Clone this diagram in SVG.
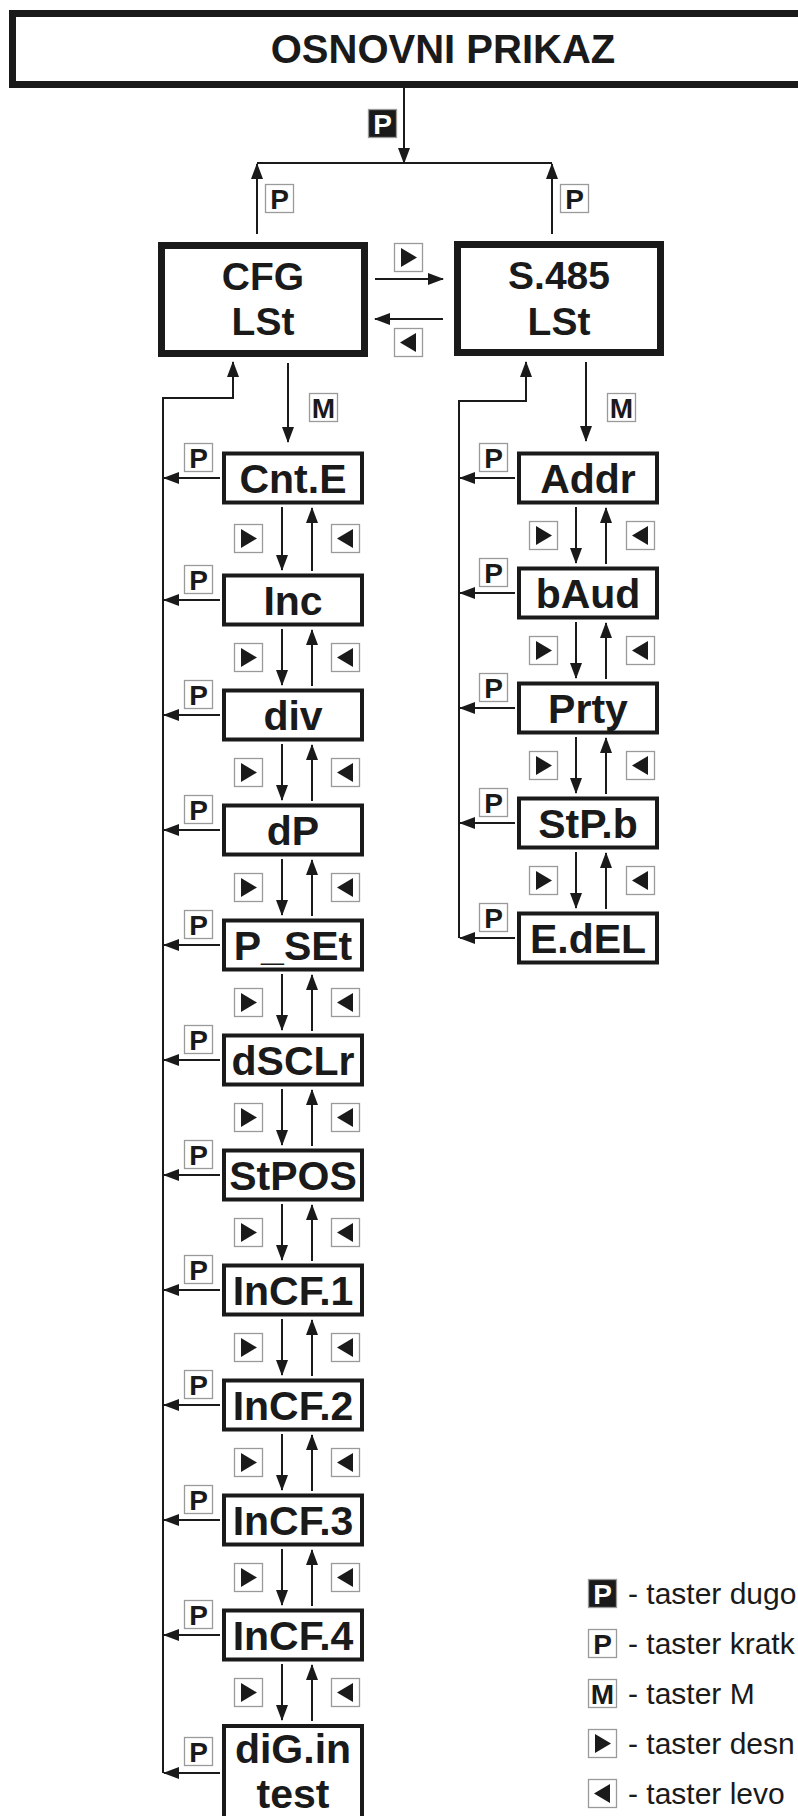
<svg xmlns="http://www.w3.org/2000/svg" xmlns:xlink="http://www.w3.org/1999/xlink" width="798" height="1816" viewBox="0 0 798 1816">
<style>
.bg{fill:#ffffff}
.big{fill:#ffffff;stroke:#1a1a1a;stroke-width:7}
.node{fill:#ffffff;stroke:#1a1a1a;stroke-width:4}
.t{font-family:"Liberation Sans",Arial,Helvetica,sans-serif;font-weight:bold;fill:#1a1a1a;text-anchor:middle}
.tn{font-size:41px}
.tb{font-size:39px}
.ln{fill:none;stroke:#1a1a1a;stroke-width:2}
.ar{fill:none;stroke:#1a1a1a;stroke-width:2;marker-end:url(#ah)}
.kb{fill:#ffffff;stroke:#9a9a9a;stroke-width:1.3}
.kbf{fill:#1a1a1a;stroke:#9a9a9a;stroke-width:1.3}
.kt{font-family:"Liberation Sans",Arial,Helvetica,sans-serif;font-weight:bold;font-size:28px;fill:#1a1a1a;text-anchor:middle}
.ktw{font-family:"Liberation Sans",Arial,Helvetica,sans-serif;font-weight:bold;font-size:28px;fill:#ffffff;text-anchor:middle}
.lg{font-family:"Liberation Sans",Arial,Helvetica,sans-serif;font-size:30px;fill:#1a1a1a}
</style>
<defs>
<marker id="ah" markerUnits="userSpaceOnUse" markerWidth="16" markerHeight="12" refX="15" refY="6" orient="auto">
<path d="M0,0 L16,6 L0,12 Z" fill="#1a1a1a"/>
</marker>
<g id="kP"><rect class="kb" x="0.5" y="0.5" width="28" height="28"/><text class="kt" x="14.5" y="24.5">P</text></g>
<g id="kPf"><rect class="kbf" x="0.5" y="0.5" width="28" height="28"/><text class="ktw" x="14.5" y="24.5">P</text></g>
<g id="kM"><rect class="kb" x="0.5" y="0.5" width="28" height="28"/><text class="kt" x="14.5" y="24.5">M</text></g>
<g id="kR"><rect class="kb" x="0.5" y="0.5" width="28" height="28"/><path d="M7,5 L23,14.5 L7,24 Z" fill="#1a1a1a"/></g>
<g id="kL"><rect class="kb" x="0.5" y="0.5" width="28" height="28"/><path d="M22,5 L6,14.5 L22,24 Z" fill="#1a1a1a"/></g>
</defs>
<rect class="bg" x="0" y="0" width="798" height="1816"/>

<g id="connectors">
<path class="ar" d="M404,88 V163"/>
<path class="ln" d="M257,163 H552"/>
<path class="ar" d="M257,234 V164"/>
<path class="ar" d="M552,234 V164"/>
<path class="ar" d="M375,279 H443"/>
<path class="ar" d="M443,319 H375"/>
<path class="ar" d="M288,363 V442"/>
<path class="ar" d="M586,362 V441"/>
<path class="ar" d="M163,1773 V398 H233 V362"/>
<path class="ar" d="M459,938 V401 H526 V362"/>
<path class="ar" d="M220,478 H164"/>
<path class="ar" d="M220,600 H164"/>
<path class="ar" d="M220,715 H164"/>
<path class="ar" d="M220,830 H164"/>
<path class="ar" d="M220,945 H164"/>
<path class="ar" d="M220,1060 H164"/>
<path class="ar" d="M220,1175 H164"/>
<path class="ar" d="M220,1290 H164"/>
<path class="ar" d="M220,1405 H164"/>
<path class="ar" d="M220,1520 H164"/>
<path class="ar" d="M220,1635 H164"/>
<path class="ar" d="M220,1773 H164"/>
<path class="ar" d="M515,478 H460"/>
<path class="ar" d="M515,593 H460"/>
<path class="ar" d="M515,708 H460"/>
<path class="ar" d="M515,823 H460"/>
<path class="ar" d="M515,938 H460"/>
<path class="ar" d="M282,507 V570"/><path class="ar" d="M312,571 V508"/>
<path class="ar" d="M282,629 V685"/><path class="ar" d="M312,686 V630"/>
<path class="ar" d="M282,744 V800"/><path class="ar" d="M312,801 V745"/>
<path class="ar" d="M282,859 V915"/><path class="ar" d="M312,916 V860"/>
<path class="ar" d="M282,974 V1030"/><path class="ar" d="M312,1031 V975"/>
<path class="ar" d="M282,1089 V1145"/><path class="ar" d="M312,1146 V1090"/>
<path class="ar" d="M282,1204 V1260"/><path class="ar" d="M312,1261 V1205"/>
<path class="ar" d="M282,1319 V1375"/><path class="ar" d="M312,1376 V1320"/>
<path class="ar" d="M282,1434 V1490"/><path class="ar" d="M312,1491 V1435"/>
<path class="ar" d="M282,1549 V1605"/><path class="ar" d="M312,1606 V1550"/>
<path class="ar" d="M282,1664 V1720"/><path class="ar" d="M312,1721 V1665"/>
<path class="ar" d="M576,507 V563"/><path class="ar" d="M606,564 V508"/>
<path class="ar" d="M576,622 V678"/><path class="ar" d="M606,679 V623"/>
<path class="ar" d="M576,737 V793"/><path class="ar" d="M606,794 V738"/>
<path class="ar" d="M576,852 V908"/><path class="ar" d="M606,909 V853"/>
</g>

<g id="keys">
<use xlink:href="#kPf" x="368" y="109"/>
<use xlink:href="#kP" x="265" y="184"/>
<use xlink:href="#kP" x="560" y="184"/>
<use xlink:href="#kR" x="394" y="243"/>
<use xlink:href="#kL" x="394" y="328"/>
<use xlink:href="#kM" x="309" y="393"/>
<use xlink:href="#kM" x="607" y="393"/>
<use xlink:href="#kP" x="184" y="443"/>
<use xlink:href="#kP" x="184" y="565"/>
<use xlink:href="#kP" x="184" y="680"/>
<use xlink:href="#kP" x="184" y="795"/>
<use xlink:href="#kP" x="184" y="910"/>
<use xlink:href="#kP" x="184" y="1025"/>
<use xlink:href="#kP" x="184" y="1140"/>
<use xlink:href="#kP" x="184" y="1255"/>
<use xlink:href="#kP" x="184" y="1370"/>
<use xlink:href="#kP" x="184" y="1485"/>
<use xlink:href="#kP" x="184" y="1600"/>
<use xlink:href="#kP" x="184" y="1737"/>
<use xlink:href="#kP" x="479" y="443"/>
<use xlink:href="#kP" x="479" y="558"/>
<use xlink:href="#kP" x="479" y="673"/>
<use xlink:href="#kP" x="479" y="788"/>
<use xlink:href="#kP" x="479" y="903"/>
<use xlink:href="#kR" x="234" y="524"/><use xlink:href="#kL" x="331" y="524"/>
<use xlink:href="#kR" x="234" y="643"/><use xlink:href="#kL" x="331" y="643"/>
<use xlink:href="#kR" x="234" y="758"/><use xlink:href="#kL" x="331" y="758"/>
<use xlink:href="#kR" x="234" y="873"/><use xlink:href="#kL" x="331" y="873"/>
<use xlink:href="#kR" x="234" y="988"/><use xlink:href="#kL" x="331" y="988"/>
<use xlink:href="#kR" x="234" y="1103"/><use xlink:href="#kL" x="331" y="1103"/>
<use xlink:href="#kR" x="234" y="1218"/><use xlink:href="#kL" x="331" y="1218"/>
<use xlink:href="#kR" x="234" y="1333"/><use xlink:href="#kL" x="331" y="1333"/>
<use xlink:href="#kR" x="234" y="1448"/><use xlink:href="#kL" x="331" y="1448"/>
<use xlink:href="#kR" x="234" y="1563"/><use xlink:href="#kL" x="331" y="1563"/>
<use xlink:href="#kR" x="234" y="1678"/><use xlink:href="#kL" x="331" y="1678"/>
<use xlink:href="#kR" x="529" y="521"/><use xlink:href="#kL" x="626" y="521"/>
<use xlink:href="#kR" x="529" y="636"/><use xlink:href="#kL" x="626" y="636"/>
<use xlink:href="#kR" x="529" y="751"/><use xlink:href="#kL" x="626" y="751"/>
<use xlink:href="#kR" x="529" y="866"/><use xlink:href="#kL" x="626" y="866"/>
</g>

<g id="osnovni"><rect class="big" x="12.5" y="13.5" width="800" height="71"/><text class="t" style="font-size:40px" x="443" y="63">OSNOVNI PRIKAZ</text></g>
<g id="cfg"><rect class="big" x="161.5" y="245.5" width="203" height="108"/><text class="t tb" x="263" y="290">CFG</text><text class="t tb" x="263" y="335">LSt</text></g>
<g id="s485"><rect class="big" x="457.5" y="244.5" width="203" height="108"/><text class="t tb" x="559" y="289">S.485</text><text class="t tb" x="559" y="335">LSt</text></g>

<g id="cnte"><rect class="node" x="224" y="453.5" width="138" height="49"/><text class="t tn" x="293" y="492.5">Cnt.E</text></g>
<g id="inc"><rect class="node" x="224" y="575.5" width="138" height="49"/><text class="t tn" x="293" y="614.5">Inc</text></g>
<g id="div"><rect class="node" x="224" y="690.5" width="138" height="49"/><text class="t tn" x="293" y="729.5">div</text></g>
<g id="dp"><rect class="node" x="224" y="805.5" width="138" height="49"/><text class="t tn" x="293" y="844.5">dP</text></g>
<g id="pset"><rect class="node" x="224" y="920.5" width="138" height="49"/><text class="t tn" x="293" y="959.5">P_SEt</text></g>
<g id="dsclr"><rect class="node" x="224" y="1035.5" width="138" height="49"/><text class="t tn" x="293" y="1074.5">dSCLr</text></g>
<g id="stpos"><rect class="node" x="224" y="1150.5" width="138" height="49"/><text class="t tn" x="293" y="1189.5">StPOS</text></g>
<g id="incf1"><rect class="node" x="224" y="1265.5" width="138" height="49"/><text class="t tn" x="293" y="1304.5">InCF.1</text></g>
<g id="incf2"><rect class="node" x="224" y="1380.5" width="138" height="49"/><text class="t tn" x="293" y="1419.5">InCF.2</text></g>
<g id="incf3"><rect class="node" x="224" y="1495.5" width="138" height="49"/><text class="t tn" x="293" y="1534.5">InCF.3</text></g>
<g id="incf4"><rect class="node" x="224" y="1610.5" width="138" height="49"/><text class="t tn" x="293" y="1649.5">InCF.4</text></g>
<g id="digin"><rect class="node" x="224" y="1726" width="138" height="110"/><text class="t tn" x="293" y="1763">diG.in</text><text class="t tn" x="293" y="1808">test</text></g>

<g id="addr"><rect class="node" x="519" y="453.5" width="138" height="49"/><text class="t tn" x="588" y="492.5">Addr</text></g>
<g id="baud"><rect class="node" x="519" y="568.5" width="138" height="49"/><text class="t tn" x="588" y="607.5">bAud</text></g>
<g id="prty"><rect class="node" x="519" y="683.5" width="138" height="49"/><text class="t tn" x="588" y="722.5">Prty</text></g>
<g id="stpb"><rect class="node" x="519" y="798.5" width="138" height="49"/><text class="t tn" x="588" y="837.5">StP.b</text></g>
<g id="edel"><rect class="node" x="519" y="913.5" width="138" height="49"/><text class="t tn" x="588" y="952.5">E.dEL</text></g>

<g id="legend">
<use xlink:href="#kPf" x="588" y="1579"/><text class="lg" x="628" y="1604">- taster dugo</text>
<use xlink:href="#kP" x="588" y="1629"/><text class="lg" x="628" y="1654">- taster kratk</text>
<use xlink:href="#kM" x="588" y="1679"/><text class="lg" x="628" y="1704">- taster M</text>
<use xlink:href="#kR" x="588" y="1729"/><text class="lg" x="628" y="1754">- taster desn</text>
<use xlink:href="#kL" x="588" y="1779"/><text class="lg" x="628" y="1804">- taster levo</text>
</g>
</svg>
